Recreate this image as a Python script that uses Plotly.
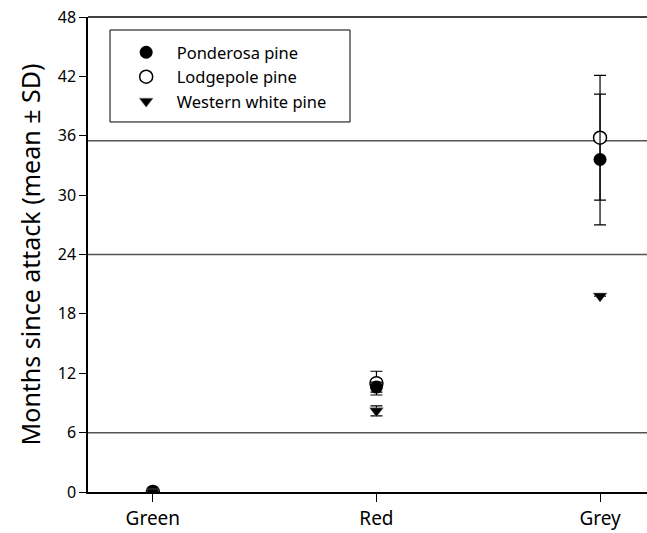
import plotly.graph_objects as go

categories = ["Green", "Red", "Grey"]
cat_pos = [0, 1, 2]

ponderosa_mean = [0.0, 10.6, 33.6]
ponderosa_sd = [0.0, 0.5, 6.6]
lodgepole_mean = [0.0, 11.0, 35.8]
lodgepole_sd = [0.0, 1.2, 6.3]
wwp_mean = [0.0, 8.2, 19.8]
wwp_sd = [0.0, 0.5, 0.0]

y_ticks = [0, 6, 12, 18, 24, 30, 36, 42, 48]
ref_lines = [6, 24, 35.5]

font = "Noto Sans"

fig = go.Figure()


def err(sd):
    return dict(type="data", array=sd, visible=True, color="black",
                thickness=1.2, width=6)


fig.add_trace(go.Scatter(x=cat_pos, y=lodgepole_mean, mode="markers", name="Lodgepole pine",
                         error_y=err(lodgepole_sd),
                         marker=dict(symbol="circle", size=13, color="white",
                                     line=dict(color="black", width=1.5)),
                         legendrank=2, legendgroup="b"))
fig.add_trace(go.Scatter(x=cat_pos, y=ponderosa_mean, mode="markers", name="Ponderosa pine",
                         error_y=err(ponderosa_sd),
                         marker=dict(symbol="circle", size=13, color="black"),
                         legendrank=1, legendgroup="a"))
fig.add_trace(go.Scatter(x=cat_pos, y=wwp_mean, mode="markers", name="Western white pine",
                         error_y=err(wwp_sd),
                         marker=dict(symbol="triangle-down", size=12, color="black",
                                     line=dict(color="#888888", width=0.5)),
                         legendrank=3, legendgroup="c"))

shapes = []
for v in ref_lines:
    shapes.append(dict(type="line", xref="paper", yref="y", x0=0, x1=1, y0=v, y1=v,
                       line=dict(color="#555555", width=1.5), layer="below"))
# legend frame
shapes.append(dict(type="rect", xref="paper", yref="paper", x0=0.0394, x1=0.4687,
                   y0=0.779, y1=0.9726, line=dict(color="black", width=1),
                   fillcolor="rgba(0,0,0,0)"))
# top border
shapes.append(dict(type="line", xref="paper", yref="paper", x0=0, x1=1, y0=1, y1=1,
                   line=dict(color="black", width=1.5)))

fig.update_layout(
    width=647, height=533,
    margin=dict(l=88, r=0, t=17, b=41),
    plot_bgcolor="white", paper_bgcolor="white",
    font=dict(family=font, color="black", size=16),
    shapes=shapes,
    showlegend=True,
    legend=dict(x=0.0495, y=0.962, xanchor="left", yanchor="top",
                bgcolor="rgba(0,0,0,0)", font=dict(size=16.5, family=font),
                traceorder="grouped", tracegroupgap=0, itemwidth=51),
    xaxis=dict(range=[-0.29, 2.21], tickvals=cat_pos, ticktext=categories,
               showgrid=False, zeroline=False, showline=True, linecolor="black",
               linewidth=1.5, ticks="outside", ticklen=8, tickcolor="black",
               tickfont=dict(size=19, family=font), automargin=False),
    yaxis=dict(range=[0, 48], tickvals=y_ticks, showgrid=False, zeroline=False,
               showline=True, linecolor="black", linewidth=1.5, ticks="outside",
               ticklen=7, tickcolor="black", tickfont=dict(size=16, family=font),
               title=dict(text="Months since attack (mean ± SD)",
                          font=dict(size=25, family=font), standoff=10),
               automargin=False),
)

fig.write_html("out.html", config={"displayModeBar": False},
               post_script="document.body.style.margin='0';")
